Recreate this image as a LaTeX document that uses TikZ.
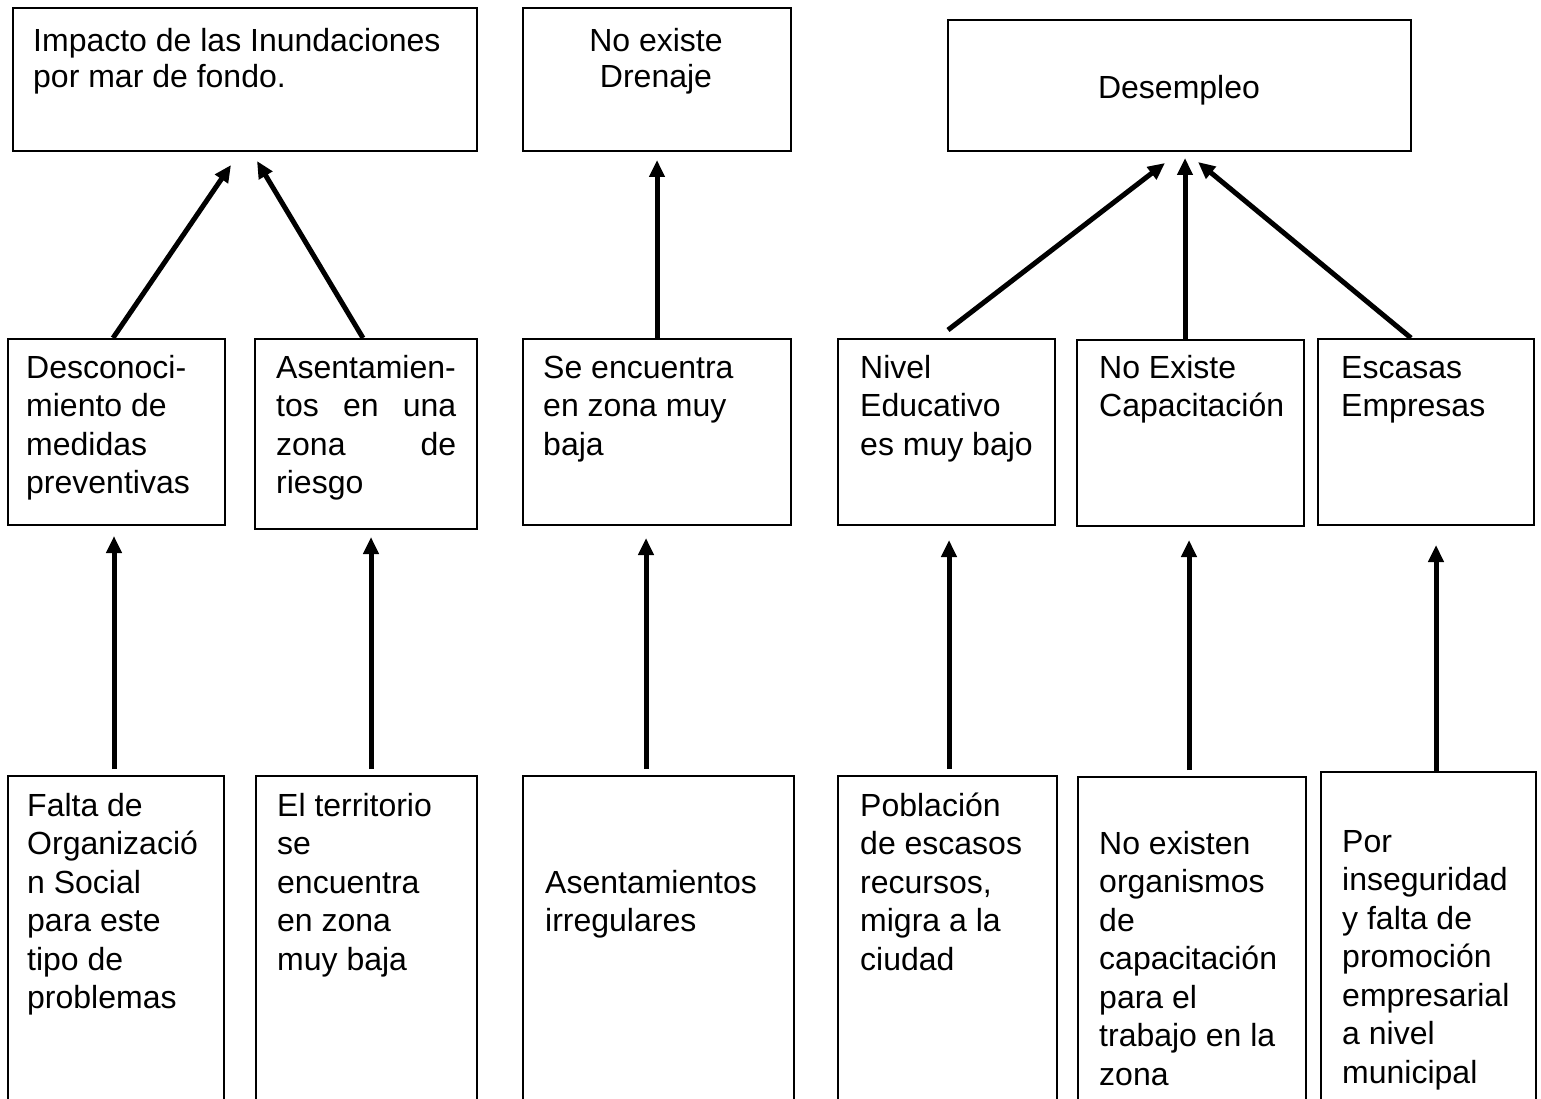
\documentclass[tikz,border=0pt]{standalone}
\usepackage{fontspec}
\setmainfont{Liberation Sans}
\usetikzlibrary{arrows.meta}
\setlength{\parindent}{0pt}
\begin{document}
\begin{tikzpicture}[x=1pt,y=-1pt,
  box/.style={draw=black, line width=1.8pt, rectangle, inner sep=0pt, anchor=north west},
  txt/.style={inner sep=0pt, anchor=north west, align=left, font=\fontsize{32}{38.5}\selectfont},
  toptxt/.style={inner sep=0pt, anchor=north west, align=left, font=\fontsize{32}{36}\selectfont},
  ctxt/.style={inner sep=0pt, anchor=north, align=center, font=\fontsize{32}{36}\selectfont},
  arr/.style={line width=5pt, -{Triangle[length=17pt,width=15pt]}}
]
\useasboundingbox (0,0) rectangle (1541,1099);
\clip (0,0) rectangle (1541,1099);
\fill[white] (0,0) rectangle (1541,1099);

% top row
\node[box, minimum width=464pt, minimum height=143pt] (t1) at (12,7) {};
\node[box, minimum width=268pt, minimum height=143pt] (t2) at (522,7) {};
\node[box, minimum width=463pt, minimum height=131pt] (t3) at (947,19) {};
\node[toptxt] (t1x) at (33,26) {\strut Impacto de las Inundaciones\\por mar de fondo.};
\node[ctxt] (t2x) at (656,26) {\strut No existe\\Drenaje};
\node[ctxt] (t3x) at (1179,73) {\strut Desempleo};

% middle row
\node[box, minimum width=217pt, minimum height=186pt] (m1) at (7,338) {};
\node[box, minimum width=222pt, minimum height=190pt] (m2) at (254,338) {};
\node[box, minimum width=268pt, minimum height=186pt] (m3) at (522,338) {};
\node[box, minimum width=217pt, minimum height=186pt] (m4) at (837,338) {};
\node[box, minimum width=227pt, minimum height=186pt] (m5) at (1076,339) {};
\node[box, minimum width=216pt, minimum height=186pt] (m6) at (1317,338) {};
\node[txt] (m1x) at (26,351) {\strut Desconoci-\\miento de\\medidas\\preventivas};
\node[txt, text width=180pt] (m2x) at (276,351) {\strut\mbox{Asentamien-}\\tos\hfill en\hfill una\\zona\hfill de\\riesgo};
\node[txt] (m3x) at (543,351) {\strut Se encuentra\\en zona muy\\baja};
\node[txt] (m4x) at (860,351) {\strut Nivel\\Educativo\\es muy bajo};
\node[txt] (m5x) at (1099,351) {\strut No Existe\\Capacitación};
\node[txt] (m6x) at (1341,351) {\strut Escasas\\Empresas};

% bottom row
\node[box, minimum width=216pt, minimum height=340pt] (b1) at (7,775) {};
\node[box, minimum width=221pt, minimum height=340pt] (b2) at (255,775) {};
\node[box, minimum width=271pt, minimum height=340pt] (b3) at (522,775) {};
\node[box, minimum width=219pt, minimum height=340pt] (b4) at (837,775) {};
\node[box, minimum width=228pt, minimum height=340pt] (b5) at (1077,776) {};
\node[box, minimum width=215pt, minimum height=340pt] (b6) at (1320,771) {};
\node[txt] (b1x) at (27,789) {\strut Falta de\\Organizació\\n Social\\para este\\tipo de\\problemas};
\node[txt] (b2x) at (277,789) {\strut El territorio\\se\\encuentra\\en zona\\muy baja};
\node[txt] (b3x) at (545,866) {\strut Asentamientos\\irregulares};
\node[txt] (b4x) at (860,789) {\strut Población\\de escasos\\recursos,\\migra a la\\ciudad};
\node[txt] (b5x) at (1099,827) {\strut No existen\\organismos\\de\\capacitación\\para el\\trabajo en la\\zona};
\node[txt] (b6x) at (1342,825) {\strut Por\\inseguridad\\y falta de\\promoción\\empresarial\\a nivel\\municipal};

% arrow tips (free ends)
\coordinate (h1) at (231,165);
\coordinate (h2) at (257,161);
\coordinate (h3) at (657,160);
\coordinate (h4) at (1165,163);
\coordinate (h5) at (1185,158);
\coordinate (h6) at (1198,162);
\coordinate (h7) at (114,536);
\coordinate (h8) at (371,537);
\coordinate (h9) at (646,538);
\coordinate (h10) at (949,540);
\coordinate (h11) at (1189,540);
\coordinate (h12) at (1436,545);

% arrows middle -> top
\draw[arr] ([xshift=106pt]m1.north west) -- (h1);
\draw[arr] ([xshift=109pt]m2.north west) -- (h2);
\draw[arr] ([xshift=135pt]m3.north west) -- (h3);
\draw[arr] ([xshift=111pt,yshift=8pt]m4.north west) -- (h4);
\draw[arr] ([xshift=109pt]m5.north west) -- (h5);
\draw[arr] ([xshift=94pt]m6.north west) -- (h6);

% arrows bottom -> middle
\draw[arr] ([xshift=107pt,yshift=6pt]b1.north west) -- (h7);
\draw[arr] ([xshift=116pt,yshift=6pt]b2.north west) -- (h8);
\draw[arr] ([xshift=124pt,yshift=6pt]b3.north west) -- (h9);
\draw[arr] ([xshift=112pt,yshift=6pt]b4.north west) -- (h10);
\draw[arr] ([xshift=112pt,yshift=6pt]b5.north west) -- (h11);
\draw[arr] ([xshift=116pt]b6.north west) -- (h12);
\end{tikzpicture}
\end{document}
